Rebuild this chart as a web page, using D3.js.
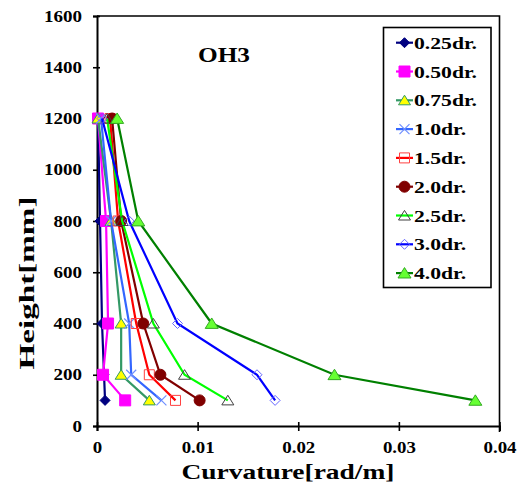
<!DOCTYPE html>
<html><head><meta charset="utf-8">
<script src="https://cdn.jsdelivr.net/npm/d3@7"></script>
<style>body{margin:0;background:#fff}svg{display:block}text{font-family:"Liberation Serif","Times New Roman",serif;font-weight:bold}</style>
</head><body><svg id="c" width="525" height="485"></svg>
<script>
const heights = [100, 200, 400, 800, 1200];
const seriesNames = ["0.25dr.","0.50dr.","0.75dr.","1.0dr.","1.5dr.","2.0dr.","2.5dr.","3.0dr.","4.0dr."];
const c025 = [0.0008, 0.0007, 0.0005, 0.0003, 0.0001];
const c050 = [0.0028, 0.0006, 0.0011, 0.0009, 0.0001];
const c075 = [0.0052, 0.0024, 0.0024, 0.0014, 0.0001];
const c100 = [0.0064, 0.0034, 0.0032, 0.0014, 0.0004];
const c150 = [0.0078, 0.0052, 0.0039, 0.0021, 0.0013];
const c200 = [0.0102, 0.0063, 0.0046, 0.0024, 0.0015];
const c250 = [0.0130, 0.0087, 0.0056, 0.0025, 0.0010];
const c300 = [0.0177, 0.0159, 0.0080, 0.0032, 0.0005];
const c400 = [0.0376, 0.0236, 0.0114, 0.0041, 0.0020];
const xTicks = [0, 0.01, 0.02, 0.03, 0.04];
const yTicks = [0, 200, 400, 600, 800, 1000, 1200, 1400, 1600];
const title = "OH3";
const xTitle = "Curvature[rad/m]";
const yTitle = "Height[mm]";

const values = [c025, c050, c075, c100, c150, c200, c250, c300, c400];
const styles = [
  {line:"#000080", shape:"diamond", fill:"#000080", stroke:"#000080", size:10},
  {line:"#FF00FF", shape:"square", fill:"#FF00FF", stroke:"#FF00FF", size:11},
  {line:"#339966", shape:"triangle", fill:"#FFFF00", stroke:"#339966", size:12},
  {line:"#3366FF", shape:"x", fill:"none", stroke:"#6F8FFF", size:10},
  {line:"#FF0000", shape:"square", fill:"none", stroke:"#FF4040", size:10},
  {line:"#800000", shape:"circle", fill:"#800000", stroke:"#800000", size:11},
  {line:"#00FF00", shape:"triangle", fill:"none", stroke:"#404040", size:12},
  {line:"#0000FF", shape:"diamond", fill:"none", stroke:"#6666FF", size:10},
  {line:"#008000", shape:"triangle", fill:"#66FF33", stroke:"#33AA22", size:13}
];

const svg = d3.select("#c");
const x = d3.scaleLinear().domain([0, 0.04]).range([97, 499.5]);
const y = d3.scaleLinear().domain([0, 1600]).range([426, 16]);

function markerPath(shape, s) {
  const h = s / 2;
  if (shape === "diamond") return `M0,${-h}L${h},0L0,${h}L${-h},0Z`;
  if (shape === "square") return `M${-h},${-h}H${h}V${h}H${-h}Z`;
  if (shape === "triangle") return `M0,${-h*0.85}L${h},${h*0.75}L${-h},${h*0.75}Z`;
  if (shape === "x") return `M${-h},${-h}L${h},${h}M${-h},${h}L${h},${-h}`;
  if (shape === "circle") return `M${h},0A${h},${h} 0 1,1 ${-h},0A${h},${h} 0 1,1 ${h},0Z`;
}
function stretchTo(sel, width) {
  sel.each(function(){ this.setAttribute("textLength", width); this.setAttribute("lengthAdjust","spacingAndGlyphs"); });
}
function stretchBy(sel, k) {
  sel.each(function(){ const n = this.getComputedTextLength(); this.setAttribute("textLength", n * k); this.setAttribute("lengthAdjust","spacingAndGlyphs"); });
}
function measure(str, size) {
  const t = svg.append("text").attr("font-size", size).text(str);
  const w = t.node().getComputedTextLength(); t.remove(); return w;
}

// frame top/right
svg.append("path").attr("d", `M${x(0)},${y(1600)}H${x(0.04)}V${y(0)+6}`)
  .attr("fill","none").attr("stroke","#000").attr("stroke-width",1.6);

// axes
const yAxis = svg.append("g").attr("transform", `translate(${x(0)},0)`)
  .call(d3.axisLeft(y).tickValues(yTicks).tickSize(4).tickFormat(d3.format("d")));
const xAxis = svg.append("g").attr("transform", `translate(0,${y(0)})`)
  .call(d3.axisBottom(x).tickValues(xTicks).tickSize(5).tickFormat(d => d === 0 ? "0" : d3.format(".2f")(d)));
[yAxis, xAxis].forEach(g => {
  g.select(".domain").attr("stroke","#000").attr("stroke-width",2);
  g.selectAll(".tick line").attr("stroke","#000").attr("stroke-width",1.6);
  g.selectAll(".tick text").attr("font-size", 16).attr("fill","#000")
    .style("font-family", '"Liberation Serif","Times New Roman",serif').style("font-weight","bold");
});
yAxis.selectAll(".tick line").attr("x1", 3);
xAxis.selectAll(".tick line").attr("y1", -4);
const ky = 38 / measure("1600", 16);
const kx = 33 / measure("0.01", 16);
yAxis.selectAll(".tick text").attr("x", -15).call(stretchBy, ky);
xAxis.selectAll(".tick text").attr("y", 16).call(stretchBy, kx);

// titles
svg.append("text").attr("x", 224).attr("y", 62).attr("text-anchor","middle").attr("font-size",20).text(title).call(stretchTo, 52);
svg.append("text").attr("x", 288).attr("y", 479).attr("text-anchor","middle").attr("font-size",21).text(xTitle).call(stretchTo, 213);
svg.append("text").attr("transform","translate(34,283) rotate(-90)").attr("text-anchor","middle").attr("font-size",21).text(yTitle).call(stretchTo, 173);

// series
const line = d3.line().x(d => x(d[0])).y(d => y(d[1]));
values.forEach((vals, i) => {
  const st = styles[i];
  const pts = vals.map((v, j) => [v, heights[j]]);
  const g = svg.append("g");
  g.append("path").attr("d", line(pts)).attr("fill","none").attr("stroke", st.line).attr("stroke-width", 2.2);
  g.selectAll("path.m").data(pts).join("path").attr("class","m")
    .attr("transform", d => `translate(${x(d[0])},${y(d[1])})`)
    .attr("d", markerPath(st.shape, st.size))
    .attr("fill", st.fill).attr("stroke", st.stroke).attr("stroke-width", st.shape === "x" ? 1.2 : 1);
});

// legend
const kl = 63 / measure("0.25dr.", 17);
const lg = svg.append("g");
lg.append("rect").attr("x", 383.5).attr("y", 27.5).attr("width", 107.5).attr("height", 260)
  .attr("fill","#fff").attr("stroke","#000").attr("stroke-width",1.6);
seriesNames.forEach((name, i) => {
  const st = styles[i];
  const cy = 42.7 + i * 28.8;
  lg.append("line").attr("x1", 396).attr("x2", 413).attr("y1", cy).attr("y2", cy).attr("stroke", st.line).attr("stroke-width", 2.2);
  lg.append("path").attr("transform", `translate(404.5,${cy})`).attr("d", markerPath(st.shape, st.size))
    .attr("fill", st.fill).attr("stroke", st.stroke).attr("stroke-width", st.shape === "x" ? 1.2 : 1);
  lg.append("text").attr("x", 414).attr("y", cy + 6).attr("font-size", 17).text(name).call(stretchBy, kl);
});
</script></body></html>
